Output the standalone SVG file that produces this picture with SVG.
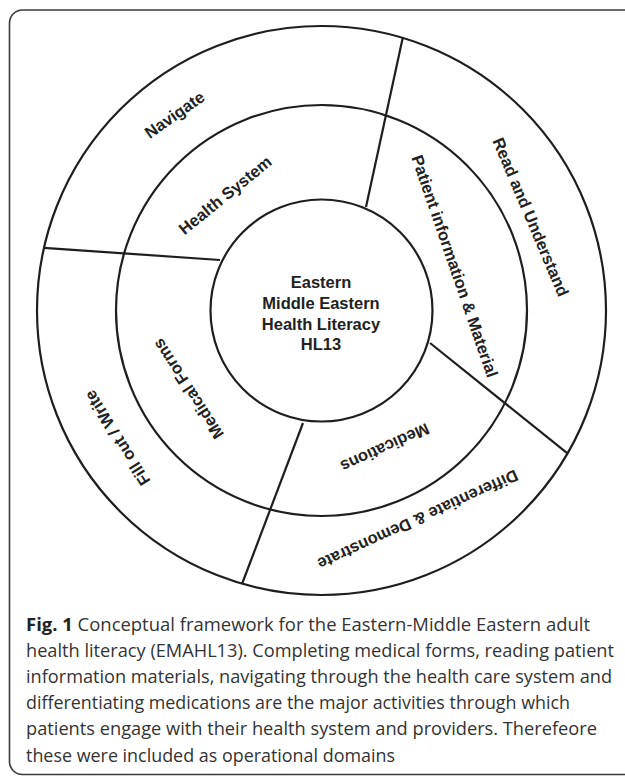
<svg xmlns="http://www.w3.org/2000/svg" width="625" height="776" viewBox="0 0 625 776">
<style>
.ring{fill:none;stroke:#1e1e1e;stroke-width:2.2}
.div{stroke:#1e1e1e;stroke-width:2.2;fill:none}
.lbl{font-family:"Liberation Sans",Arial,sans-serif;font-weight:bold;font-size:16.5px;fill:#222;text-anchor:middle;dominant-baseline:central}
.cap{font-family:"Open Sans","Noto Sans",sans-serif;font-size:18.5px;fill:#333}
</style>
<rect x="9.5" y="10" width="640" height="764.5" rx="13" ry="13" fill="#fff" stroke="#3a3a3a" stroke-width="1.6"/>
<g id="rings">
<circle class="ring" cx="321.5" cy="310.5" r="284.5"/>
<circle class="ring" cx="321.5" cy="310.5" r="205.5"/>
</g>
<g id="connectors">
<line class="div" x1="402.7" y1="38" x2="366" y2="207"/>
<line class="div" x1="43.9" y1="247.9" x2="220" y2="260"/>
<line class="div" x1="430" y1="343" x2="567.5" y2="453.4"/>
<line class="div" x1="303" y1="423" x2="242" y2="584"/>
</g>
<g id="center">
<circle class="ring" cx="321.5" cy="310.5" r="111" fill="#fff"/>
<text class="lbl" x="321" y="282">Eastern</text>
<text class="lbl" x="321" y="303">Middle Eastern</text>
<text class="lbl" x="321" y="323.5">Health Literacy</text>
<text class="lbl" x="321" y="344">HL13</text>
</g>
<g id="navigate"><text class="lbl" transform="translate(174.5,114.5) rotate(-35)">Navigate</text></g>
<g id="health-system"><text class="lbl" transform="translate(225,195) rotate(-39)">Health System</text></g>
<g id="read-understand"><text class="lbl" transform="translate(531,217) rotate(67)">Read and Understand</text></g>
<g id="patient-information"><text class="lbl" transform="translate(455,266) rotate(71)">Patient information &amp; Material</text></g>
<g id="medications"><text class="lbl" transform="translate(385,448) rotate(155.5)">Medications</text></g>
<g id="differentiate"><text class="lbl" transform="translate(418,520) rotate(155.5)">Differentiate &amp; Demonstrate</text></g>
<g id="medical-forms"><text class="lbl" transform="translate(188,389) rotate(237)">Medical Forms</text></g>
<g id="fill-out"><text class="lbl" transform="translate(117,438) rotate(238)">Fill out / Write</text></g>
<g id="caption">
<text class="cap" x="26" y="630.5" textLength="564" lengthAdjust="spacingAndGlyphs"><tspan font-weight="bold" fill="#222">Fig. 1</tspan> Conceptual framework for the Eastern-Middle Eastern adult</text>
<text class="cap" x="26" y="656.7" textLength="588" lengthAdjust="spacingAndGlyphs">health literacy (EMAHL13). Completing medical forms, reading patient</text>
<text class="cap" x="26" y="683" textLength="586" lengthAdjust="spacingAndGlyphs">information materials, navigating through the health care system and</text>
<text class="cap" x="26" y="709.2" textLength="544" lengthAdjust="spacingAndGlyphs">differentiating medications are the major activities through which</text>
<text class="cap" x="26" y="735.4" textLength="571" lengthAdjust="spacingAndGlyphs">patients engage with their health system and providers. Therefeore</text>
<text class="cap" x="26" y="761.6" textLength="369" lengthAdjust="spacingAndGlyphs">these were included as operational domains</text>
</g>
</svg>
